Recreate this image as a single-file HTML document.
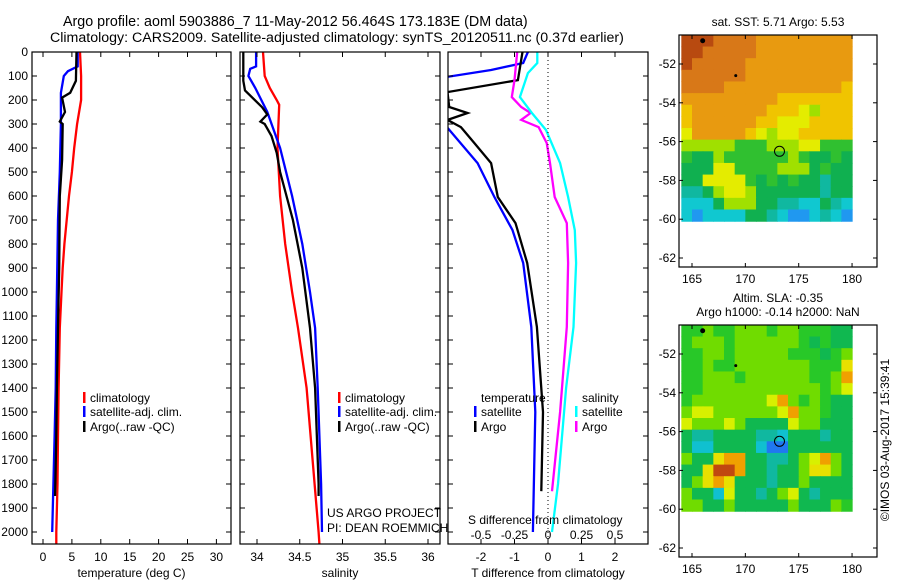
<!DOCTYPE html>
<html><head><meta charset="utf-8">
<style>
html,body{margin:0;padding:0;background:#fff;}
svg{display:block;font-family:"Liberation Sans",sans-serif;}
</style></head>
<body>
<svg id="fig" width="900" height="580" viewBox="0 0 900 580" xmlns="http://www.w3.org/2000/svg">
<text x="63" y="26" font-size="14.3">Argo profile: aoml 5903886_7 11-May-2012 56.464S 173.183E (DM data)</text>
<text x="50" y="42" font-size="14.2">Climatology: CARS2009. Satellite-adjusted climatology: synTS_20120511.nc (0.37d earlier)</text>
<text x="778" y="26" font-size="12" text-anchor="middle">sat. SST: 5.71  Argo: 5.53</text>
<text x="778" y="302" font-size="12" text-anchor="middle">Altim. SLA: -0.35</text>
<text x="778" y="316" font-size="12" text-anchor="middle">Argo h1000: -0.14 h2000: NaN</text>
<text transform="translate(889,440) rotate(-90)" font-size="12" text-anchor="middle">©IMOS 03-Aug-2017 15:39:41</text>
<g id="plots"></g>
</svg>
<script>
// ---- data ----
const depthTicks=[0,100,200,300,400,500,600,700,800,900,1000,1100,1200,1300,1400,1500,1600,1700,1800,1900,2000];
const tempTicks=[0,5,10,15,20,25,30];
const salTicks=[34,34.5,35,35.5,36];
const tdiffTicks=[-2,-1,0,1,2];
const sdiffTicks=[-0.5,-0.25,0,0.25,0.5];
const sdiffLabels=["-0.5","-0.25","0","0.25","0.5"];
const tempClimDepth=[0,100,200,300,400,500,600,700,800,900,1000,1150,1400,1600,1800,2000,2050];
const tempClim=[6.4,6.6,6.6,5.9,5.4,5.0,4.5,4.1,3.7,3.4,3.2,2.9,2.7,2.6,2.5,2.3,2.3];
const tempSatDepth=[0,60,80,100,170,300,500,700,1000,1150,1400,1600,1800,2000];
const tempSat=[6.0,6.0,4.3,3.6,3.1,3.1,2.9,2.6,2.4,2.3,2.2,2.0,1.8,1.6];
const tempArgoDepth=[0,120,170,190,250,290,300,450,600,900,1150,1400,1600,1850];
const tempArgo=[5.8,5.7,4.7,3.3,3.8,2.9,3.4,3.3,2.9,2.8,2.6,2.4,2.3,2.1];
const salClimDepth=[0,100,150,200,220,400,600,800,1000,1150,1400,2000,2050];
const salClim=[34.07,34.09,34.15,34.23,34.26,34.24,34.27,34.33,34.41,34.48,34.58,34.72,34.73];
const salSatDepth=[0,60,70,100,150,250,400,600,800,1000,1150,1400,1800,2000];
const salSat=[33.99,33.99,33.92,33.9,33.98,34.12,34.27,34.41,34.53,34.62,34.68,34.71,34.75,34.76];
const salArgoDepth=[0,120,160,230,260,290,300,350,420,500,700,900,1150,1400,1800,1850];
const salArgo=[33.84,33.84,33.86,34.06,34.12,34.04,34.09,34.17,34.23,34.27,34.42,34.53,34.62,34.68,34.72,34.72];
const tdSatDepth=[0,46,75,108,283,463,604,742,879,1146,1500,2000];
const tdSat=[-0.6,-0.74,-1.7,-3.2,-3.2,-2.1,-1.6,-1.06,-0.74,-0.5,-0.38,-0.45];
const tdArgoDepth=[0,117,167,229,254,283,313,379,463,604,713,879,1146,1500,1830];
const tdArgo=[-0.76,-0.9,-3.0,-2.95,-2.4,-3.0,-2.6,-2.2,-1.7,-1.5,-0.97,-0.62,-0.33,-0.15,-0.2];
const sdArgoDepth=[0,117,188,229,254,283,313,379,463,604,713,879,1146,1500,1830];
const sdArgo=[-0.23,-0.25,-0.27,-0.2,-0.13,-0.2,-0.07,-0.01,0.015,0.05,0.14,0.15,0.14,0.09,0.03];
const sdSatDepth=[0,46,88,188,254,325,463,604,742,879,1146,1400,1800,2000];
const sdSat=[-0.08,-0.08,-0.15,-0.21,-0.12,-0.015,0.09,0.15,0.2,0.21,0.19,0.135,0.075,0.03];
const lonTicks=[165,170,175,180];
const latTicks=[-52,-54,-56,-58,-60,-62];
const sstRows=["bbbooooOOOOOOOOO","bboooooOOOOOOOOO","boooooOOOOOOOOOO","ooooooOOOOOOOOOO","ooooOOOOOOOOOOOY","OOOOOOOOOYYYYYYY","YOOOOOOOYYYylYYY","YOOOOOOYYyyyYYYY","yOOOOOYylyyYYYYY","lllllggglllyyggg","gGGlgggggglgGGgG","GGGyygggglllGgGG","GGyyyygGgGgGGtGG","ttGlyylGGGGGGtGG","cccGlllGGttccGtc","cuccccGGtcuuctcu"];
const slaRows=["gglgglllgllgggGG","glllgllllllgGgGG","ggllglllllgggGgl","gglgglllllllgggY","gglllgllllllgglO","gglllllllllllgly","glllllllyOlglgGG","lyyllllllyOllgGG","ylllylGGGGyllGGG","GttGGGGttcGGGtGG","GccGGGGcuuGGGGGG","lGGYOOGGttGlyOlG","GGYbbOGGtGGlYYlG","GlYOYGGGtGGlGGGG","lGGcyGGtGlyGtGGG","llGGlGGGGGlGGGlg"];
const sstPal={b:"#b84a10",o:"#d87818",O:"#e89a10",Y:"#f0c400",y:"#e4ec00",l:"#a0e000",g:"#30c030",G:"#10b050",t:"#10b8a0",c:"#10c8d0",u:"#2098f0"};
const slaPal={b:"#c04810",O:"#f0a000",Y:"#e8e000",y:"#d8f000",l:"#70dc00",g:"#28c828",G:"#10b850",t:"#10b8a0",c:"#10c0d0",u:"#2078f0"};

const NS="http://www.w3.org/2000/svg";
const root=document.getElementById('plots');
function mk(tag,attrs,parent){const e=document.createElementNS(NS,tag);for(const k in attrs)e.setAttribute(k,attrs[k]);(parent||root).appendChild(e);return e;}
const yD=d=>52+0.24*d;
const pTop=52,pBot=544;

function panel(name,x0,x1,xs,ticks,labels,xlabel,series,legend){
  const g=mk('g',{});
  
  
  const cid='clip-'+name;
  const cp=mk('clipPath',{id:cid},g);mk('rect',{x:x0,y:pTop,width:x1-x0,height:pBot-pTop},cp);
  series.forEach(s=>{
    const sx=s.xs||xs;
    const pts=s.d.map((d,i)=>sx(s.v[i]).toFixed(1)+','+yD(d).toFixed(1)).join(' ');
    const p=mk('polyline',{points:pts,fill:'none',stroke:s.c,'stroke-width':2.3,'clip-path':'url(#'+cid+')'},g);
    
    
  });
  const r=mk('rect',{x:x0,y:pTop,width:x1-x0,height:pBot-pTop,fill:'none',stroke:'#000','stroke-width':1.2},g);
  
  
  ticks.forEach((t,i)=>{
    const x=xs(t);
    mk('line',{x1:x,x2:x,y1:pTop,y2:pTop+5,stroke:'#000'},g);
    mk('line',{x1:x,x2:x,y1:pBot,y2:pBot-5,stroke:'#000'},g);
    const tl=mk('text',{x:x,y:561,'font-size':12,'text-anchor':'middle'},g);tl.textContent=labels[i];
    
    
  });
  depthTicks.forEach(d=>{
    mk('line',{x1:x0,x2:x0+5,y1:yD(d),y2:yD(d),stroke:'#000'},g);
    mk('line',{x1:x1,x2:x1-5,y1:yD(d),y2:yD(d),stroke:'#000'},g);
  });
  const xl=mk('text',{x:(x0+x1)/2,y:577,'font-size':12,'text-anchor':'middle'},g);xl.textContent=xlabel;
  
  
  (legend||[]).forEach(L=>{
    if(L.c) mk('rect',{x:L.x-7,y:L.y-10,width:2.5,height:11,fill:L.c},g);
    const t=mk('text',{x:L.x,y:L.y,'font-size':12},g);t.textContent=L.t;
    
    
  });
  return g;
}
depthTicks.forEach(d=>{const t=mk('text',{x:28,y:yD(d)+4,'font-size':12,'text-anchor':'end'});t.textContent=d;
  
  });

const xT=v=>43+5.78*v, xS=v=>257+85.5*(v-34), xTD=v=>548+33.5*v, xSD=v=>548+134*v;
panel('temperature-panel',32,231,xT,tempTicks,tempTicks.map(String),'temperature (deg C)',
 [{n:'temp-climatology-line',d:tempClimDepth,v:tempClim,c:'#ff0000'},{n:'temp-satellite-line',d:tempSatDepth,v:tempSat,c:'#0000ff'},{n:'temp-argo-line',d:tempArgoDepth,v:tempArgo,c:'#000'}],
 [{x:90,y:402,t:'climatology',c:'#f00'},{x:90,y:416,t:'satellite-adj. clim.',c:'#00f'},{x:90,y:431,t:'Argo(..raw -QC)',c:'#000'}]);
panel('salinity-panel',240,440,xS,salTicks,salTicks.map(String),'salinity',
 [{n:'sal-climatology-line',d:salClimDepth,v:salClim,c:'#ff0000'},{n:'sal-satellite-line',d:salSatDepth,v:salSat,c:'#0000ff'},{n:'sal-argo-line',d:salArgoDepth,v:salArgo,c:'#000'}],
 [{x:345,y:402,t:'climatology',c:'#f00'},{x:345,y:416,t:'satellite-adj. clim.',c:'#00f'},{x:345,y:431,t:'Argo(..raw -QC)',c:'#000'},{x:327,y:517,t:'US ARGO PROJECT'},{x:327,y:532,t:'PI: DEAN ROEMMICH'}]);
const g3=panel('difference-panel',448,648,xTD,tdiffTicks,tdiffTicks.map(String),'T difference from climatology',
 [{n:'tdiff-satellite-line',d:tdSatDepth,v:tdSat,c:'#0000ff'},{n:'tdiff-argo-line',d:tdArgoDepth,v:tdArgo,c:'#000'},{n:'sdiff-argo-line',d:sdArgoDepth,v:sdArgo,c:'#ff00ff',xs:xSD},{n:'sdiff-satellite-line',d:sdSatDepth,v:sdSat,c:'#00ffff',xs:xSD}],
 [{x:481,y:402,t:'temperature'},{x:481,y:416,t:'satellite',c:'#00f'},{x:481,y:431,t:'Argo',c:'#000'},{x:582,y:402,t:'salinity'},{x:582,y:416,t:'satellite',c:'#0ff'},{x:582,y:431,t:'Argo',c:'#f0f'},{x:468,y:524,t:'S difference from climatology'}]);
const zl=mk('line',{x1:xTD(0),x2:xTD(0),y1:pTop,y2:pBot,stroke:'#000','stroke-dasharray':'1,3'},g3);


sdiffTicks.forEach((s,i)=>{const t=mk('text',{x:xSD(s),y:539,'font-size':12,'text-anchor':'middle'},g3);t.textContent=sdiffLabels[i];
  
  });

function map(name,oy,rows,pal){
  const g=mk('g',{});
  
  
  const bx0=679,bx1=877,by0=35+oy,by1=267+oy;
  const lx=v=>692+10.67*(v-165), ly=v=>oy+64+19.4*(-52-v);
  const nr=rows.length,nc=rows[0].length;
  const cw=(lx(180)-lx(164))/nc, ch=(ly(-60.1)-ly(-50.5))/nr;
  rows.forEach((row,r)=>{[...row].forEach((k,c)=>{
    mk('rect',{x:(lx(164)+c*cw).toFixed(2),y:(ly(-50.5)+r*ch).toFixed(2),width:(cw+0.6).toFixed(2),height:(ch+0.6).toFixed(2),fill:pal[k]},g);
  });});
  mk('circle',{cx:lx(166),cy:ly(-50.8),r:2.5,fill:'#000'},g);
  mk('circle',{cx:lx(169.1),cy:ly(-52.6),r:1.5,fill:'#000'},g);
  const loc=mk('circle',{cx:lx(173.2),cy:ly(-56.5),r:5,fill:'none',stroke:'#000','stroke-width':1},g);
  
  
  mk('rect',{x:bx0,y:by0,width:bx1-bx0,height:by1-by0,fill:'none',stroke:'#000','stroke-width':1.2},g);
  lonTicks.forEach(v=>{const x=lx(v);
    mk('line',{x1:x,x2:x,y1:by0,y2:by0+4,stroke:'#000'},g);mk('line',{x1:x,x2:x,y1:by1,y2:by1-4,stroke:'#000'},g);
    const t=mk('text',{x:x,y:by1+16,'font-size':12,'text-anchor':'middle'},g);t.textContent=v;
    
    });
  latTicks.forEach(v=>{const y=ly(v);
    mk('line',{x1:bx0,x2:bx0+4,y1:y,y2:y,stroke:'#000'},g);mk('line',{x1:bx1,x2:bx1-4,y1:y,y2:y,stroke:'#000'},g);
    const t=mk('text',{x:676,y:y+4,'font-size':12,'text-anchor':'end'},g);t.textContent=v;
    
    });
}
map('sst-map',0,sstRows,sstPal);
map('sla-map',290,slaRows,slaPal);
</script>
</body></html>
